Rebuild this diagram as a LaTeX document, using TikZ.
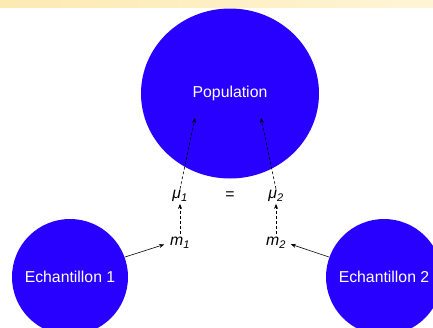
\documentclass[tikz,border=0pt]{standalone}
\usepackage{fontspec}
\setmainfont{Liberation Sans}
\usetikzlibrary{arrows.meta,shapes.geometric}
\definecolor{popblue}{RGB}{40,0,255}
\definecolor{bandleft}{RGB}{252,234,178}
\definecolor{bandright}{RGB}{255,245,214}

\begin{document}
\begin{tikzpicture}[x=1pt, y=-1pt,
  every node/.style={font=\fontsize{15.8}{18}\selectfont},
  blob/.style={fill=popblue, text=white, inner sep=0pt},
  var/.style={inner sep=1pt},
  arr/.style={-{Stealth[length=5pt,width=4pt]}, semithick},
  darr/.style={arr, dash pattern=on 3pt off 2pt}
]
  \useasboundingbox (0,0) rectangle (433,327);
  \clip (0,0) rectangle (433,327);
  \shade[left color=bandleft, right color=bandright] (0,0) rectangle (433,7);
  % population and samples
  \node[blob, ellipse, minimum width=178pt, minimum height=170pt] (pop) at (230,93.5) {Population};
  \node[blob, circle, minimum size=116pt] (e1) at (70,277) {Echantillon 1};
  \node[blob, circle, minimum size=116pt] (e2) at (384,277) {Echantillon 2};
  % means
  \node[var] (mu1) at (180,196) {\textit{μ}\textsubscript{\textit{1}}};
  \node[var] (eq)  at (230,196) {=};
  \node[var] (mu2) at (276,196) {\textit{μ}\textsubscript{\textit{2}}};
  \node[var] (m1)  at (180,243) {\textit{m}\textsubscript{\textit{1}}};
  \node[var] (m2)  at (276,243) {\textit{m}\textsubscript{\textit{2}}};
  \coordinate (p1) at (195,118);
  \coordinate (p2) at (261,118);
  % arrows
  \draw[darr] (mu1.north) -- (p1);
  \draw[darr] (mu2.north) -- (p2);
  \draw[darr, shorten <=2pt, shorten >=1pt] (m1.north) -- (mu1.south);
  \draw[darr, shorten <=2pt, shorten >=1pt] (m2.north) -- (mu2.south);
  \draw[arr, shorten >=5pt] (e1.20) -- (m1.west);
  \draw[arr, shorten >=4pt] (e2.160) -- (m2.east);
\end{tikzpicture}
\end{document}
